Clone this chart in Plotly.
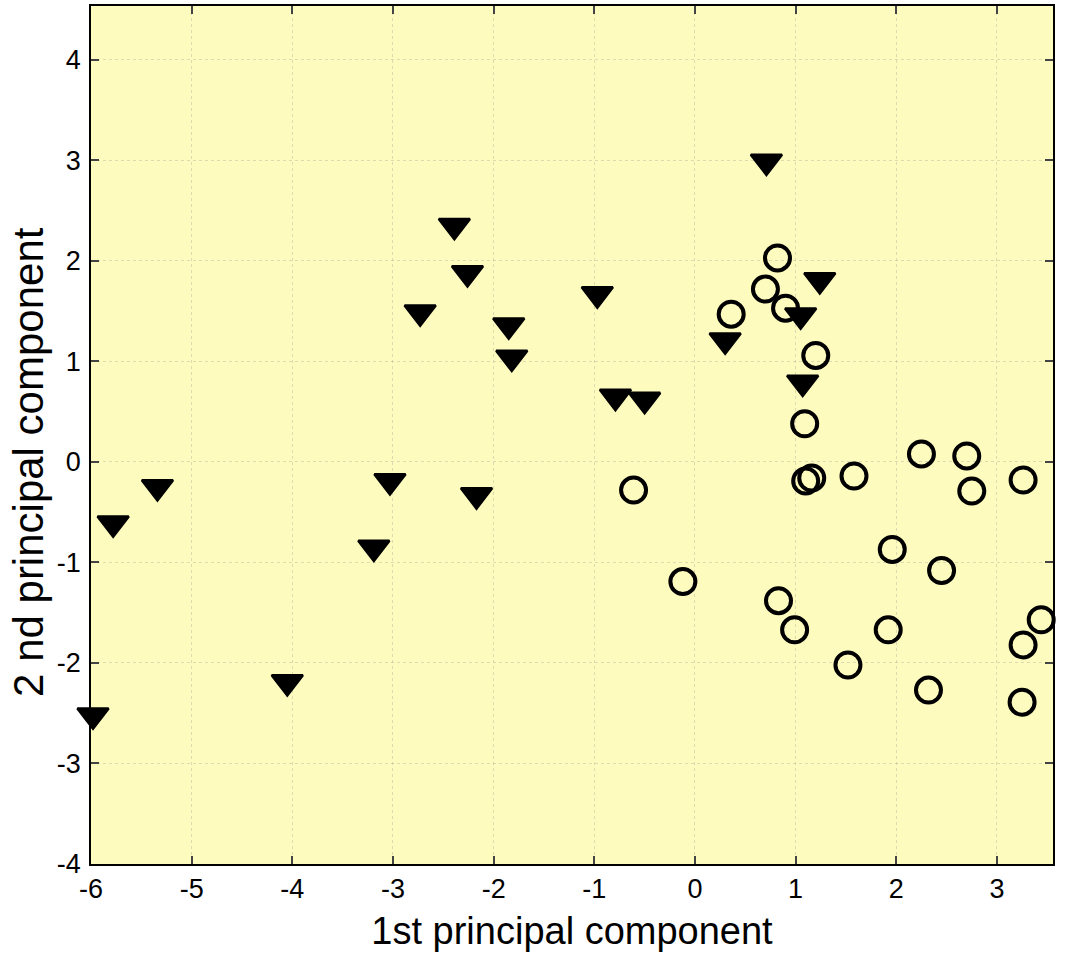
import plotly.graph_objects as go

# Class A (filled down-triangles)
tri_x = [0.71, -2.39, -2.26, -2.73, -1.85, -1.82, -0.97, 1.24, 1.05, 0.30, 1.07,
         -0.79, -0.50, -3.03, -2.17, -5.34, -5.78, -3.19, -4.05, -6.02, -5.98]
tri_y = [2.99, 2.35, 1.88, 1.49, 1.36, 1.04, 1.67, 1.81, 1.46, 1.21, 0.79,
         0.65, 0.62, -0.19, -0.33, -0.25, -0.61, -0.85, -2.19, -2.43, -2.52]

# Class B (open circles)
circ_x = [0.82, 0.70, 0.90, 0.36, 1.20, 1.09, 1.10, 1.16, 1.58, 2.25, 2.70, 2.75, 3.26,
          3.56, -0.61, -0.12, 0.83, 0.99, 1.96, 2.45, 1.92, 1.52, 2.32, 3.44, 3.26, 3.25]
circ_y = [2.03, 1.72, 1.53, 1.47, 1.06, 0.38, -0.19, -0.16, -0.14, 0.08, 0.06, -0.29, -0.18,
          0.12, -0.28, -1.19, -1.38, -1.67, -0.87, -1.08, -1.67, -2.02, -2.27, -1.57, -1.82, -2.39]

x_ticks = [-6, -5, -4, -3, -2, -1, 0, 1, 2, 3]
x_labels = ["-6", "-5", "-4", "-3", "-2", "-1", "0", "1", "2", "3"]
y_ticks = [-4, -3, -2, -1, 0, 1, 2, 3, 4]
y_labels = ["-4", "-3", "-2", "-1", "0", "1", "2", "3", "4"]

FONT = "Liberation Sans, Arial, sans-serif"

fig = go.Figure()
fig.add_trace(go.Scatter(
    x=circ_x, y=circ_y, mode="markers", cliponaxis=False,
    marker=dict(symbol="circle-open", size=25, color="black", line=dict(width=4, color="black")),
    showlegend=False))
fig.add_trace(go.Scatter(
    x=tri_x, y=tri_y, mode="markers", cliponaxis=False,
    marker=dict(symbol="triangle-down", size=27, color="black", line=dict(width=2.5, color="black")),
    showlegend=False))

axis_common = dict(
    showline=True, linecolor="black", linewidth=1.5, mirror="ticks",
    ticks="inside", ticklen=8, tickwidth=1.5, tickcolor="#444444",
    showgrid=True, gridcolor="rgba(170,170,150,0.40)", gridwidth=1, griddash="dot",
    zeroline=False,
    tickfont=dict(family=FONT, size=27, color="black"),
)

fig.update_layout(
    width=1068, height=957,
    margin=dict(l=91, r=15, t=4, b=93),
    paper_bgcolor="white", plot_bgcolor="#FEFBBF",
    font=dict(family=FONT, color="black"),
    xaxis=dict(range=[-6, 3.557], tickvals=x_ticks, ticktext=x_labels, ticklabelstandoff=0,
               title=dict(text="1st principal component", font=dict(size=38), standoff=14),
               **axis_common),
    yaxis=dict(range=[-4, 4.536], tickvals=y_ticks, ticktext=y_labels, ticklabelstandoff=3,
               **axis_common),
    annotations=[dict(
        text="2 nd principal component", textangle=-90, showarrow=False,
        xref="paper", yref="paper", x=-0.0645, y=0.4686,
        xanchor="center", yanchor="middle",
        font=dict(family=FONT, size=42, color="black"))],
)

fig.write_html("out.html", config={"displayModeBar": False},
               post_script="document.body.style.margin='0';document.body.style.padding='0';")
